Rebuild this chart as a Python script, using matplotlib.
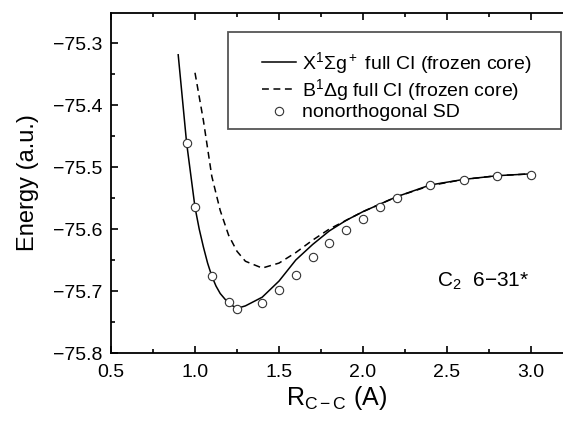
import matplotlib
matplotlib.use("Agg")
import matplotlib.pyplot as plt
from matplotlib.ticker import MultipleLocator
from matplotlib.patches import Rectangle

plt.rcParams['font.family'] = ['Liberation Sans', 'DejaVu Sans']
plt.rcParams['mathtext.fontset'] = 'custom'
plt.rcParams['mathtext.rm'] = 'Liberation Sans'
plt.rcParams['mathtext.it'] = 'Liberation Sans'
plt.rcParams['mathtext.bf'] = 'Liberation Sans:bold'

# Ground state X1Sigma_g+ full CI
x_solid = [0.9, 0.95, 1.0, 1.025, 1.05, 1.075, 1.1, 1.125, 1.15, 1.2, 1.25, 1.3, 1.4,
           1.5, 1.6, 1.7, 1.8, 1.9, 2.0, 2.2, 2.4, 2.6, 2.8, 3.0]
y_solid = [-75.319, -75.461, -75.565, -75.600, -75.629, -75.655, -75.676, -75.692,
           -75.704, -75.720, -75.728, -75.724, -75.710, -75.684, -75.650, -75.625,
           -75.603, -75.586, -75.572, -75.548, -75.529, -75.520, -75.514, -75.511]

# B1Delta_g full CI
x_dash = [1.0, 1.05, 1.1, 1.15, 1.2, 1.25, 1.3, 1.4, 1.5, 1.6, 1.7, 1.8, 2.0, 2.2,
          2.4, 2.6, 2.8, 3.0]
y_dash = [-75.348, -75.425, -75.515, -75.570, -75.610, -75.636, -75.652, -75.663,
          -75.655, -75.638, -75.618, -75.600, -75.572, -75.548, -75.530, -75.520,
          -75.514, -75.511]

# nonorthogonal SD
x_sd = [0.95, 1.0, 1.1, 1.2, 1.25, 1.4, 1.5, 1.6, 1.7, 1.8, 1.9, 2.0, 2.1, 2.2,
        2.4, 2.6, 2.8, 3.0]
y_sd = [-75.461, -75.565, -75.676, -75.718, -75.729, -75.719, -75.698, -75.674,
        -75.645, -75.623, -75.602, -75.584, -75.565, -75.550, -75.529, -75.521,
        -75.515, -75.513]

labels = [r"X$^1$Σg$^+$ full CI (frozen core)",
          r"B$^1$Δg full CI (frozen core)",
          "nonorthogonal SD"]

W, H = 563, 423
AX_L, AX_R, AX_T, AX_B = 111, 563, 13, 353

fig = plt.figure(figsize=(W/100, H/100), dpi=100)
ax = fig.add_axes([AX_L/W, 1-AX_B/H, (AX_R-AX_L)/W, (AX_B-AX_T)/H])

ax.plot(x_solid, y_solid, color='black', lw=1.1, label=labels[0])
ax.plot(x_dash, y_dash, color='black', lw=1.1, ls=(0, (4.5, 3)), label=labels[1])
ax.plot(x_sd, y_sd, ls='none', marker='o', ms=6, mfc='white', mec='#333333',
        mew=0.8, label=labels[2])

ax.set_xlim(0.5, 0.5 + 452/168)
ax.set_ylim(-75.8, -75.8 + 340/620)
ax.xaxis.set_minor_locator(MultipleLocator(0.25))
ax.yaxis.set_minor_locator(MultipleLocator(0.05))
ax.set_xticks([0.5, 1.0, 1.5, 2.0, 2.5, 3.0])
ax.set_xticklabels(['0.5', '1.0', '1.5', '2.0', '2.5', '3.0'])
ax.set_yticks([-75.8, -75.7, -75.6, -75.5, -75.4, -75.3])
ax.set_yticklabels(['−75.8', '−75.7', '−75.6', '−75.5', '−75.4', '−75.3'])

ax.tick_params(which='both', direction='in', top=True, right=False, width=1.2)
ax.tick_params(which='major', length=5)
ax.tick_params(which='minor', length=3)
ax.tick_params(axis='x', labelsize=14, pad=8)
ax.tick_params(axis='y', labelsize=14, pad=6)
ax.spines['right'].set_visible(False)
for s in ['left', 'bottom', 'top']:
    ax.spines[s].set_linewidth(1.3)

ax.set_xlabel(r"R$_{\mathrm{C-C}}$ (A)", fontsize=18, labelpad=2)
ax.set_ylabel("Energy (a.u.)", fontsize=17, labelpad=10)

fig.text(437/W, 1-287/H, r"C$_2$  6−31*", fontsize=15, va='baseline')

def ax_frac(px, py):
    return ((px-AX_L)/(AX_R-AX_L), (AX_B-py)/(AX_B-AX_T))

# legend frame
x0, y0 = ax_frac(228, 129)
x1, y1 = ax_frac(561, 32)
ax.add_patch(Rectangle((x0, y0), x1-x0, y1-y0, transform=ax.transAxes,
                       fill=True, facecolor='white', edgecolor='#555555',
                       lw=1.3, zorder=4))

leg = ax.legend(loc='upper left', bbox_to_anchor=ax_frac(262, 50), borderaxespad=0,
                borderpad=0, fontsize=14, frameon=False, handlelength=1.75,
                handletextpad=0.3, labelspacing=0.05)
leg.set_zorder(5)

fig.savefig("out.png", dpi=100)
